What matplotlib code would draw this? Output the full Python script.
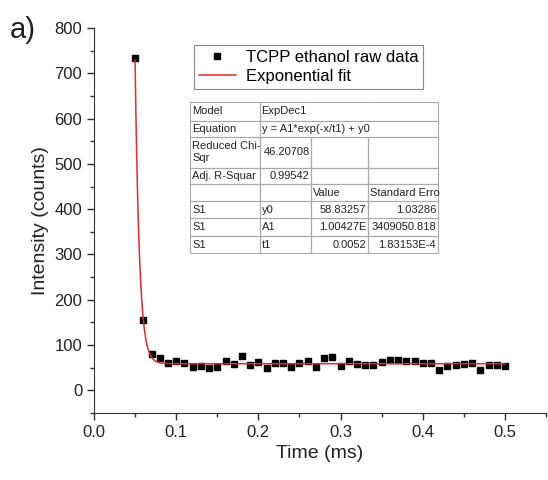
import numpy as np
import matplotlib.pyplot as plt
from matplotlib.table import Table
from matplotlib.ticker import MultipleLocator

plt.rcParams['font.family'] = ['Liberation Sans', 'DejaVu Sans']

# raw decay data
time_ms = [0.05, 0.06, 0.07, 0.08, 0.09, 0.10, 0.11, 0.12, 0.13, 0.14,
           0.15, 0.16, 0.17, 0.18, 0.19, 0.20, 0.21, 0.22, 0.23, 0.24,
           0.25, 0.26, 0.27, 0.28, 0.29, 0.30, 0.31, 0.32, 0.33, 0.34,
           0.35, 0.36, 0.37, 0.38, 0.39, 0.40, 0.41, 0.42, 0.43, 0.44,
           0.45, 0.46, 0.47, 0.48, 0.49, 0.50]
counts = [733, 155, 81, 72, 60, 65, 61, 51, 54, 49,
          51, 64, 59, 75, 56, 62, 49, 61, 60, 51,
          60, 65, 51, 71, 74, 53, 64, 59, 57, 57,
          62, 68, 68, 64, 64, 60, 61, 45, 54, 56,
          59, 61, 44, 56, 56, 54]

# fit parameters from the table
y0 = 58.83257
A1 = 1.00427e7
t1 = 0.0052

table_rows = [
    ["Model", "ExpDec1", "", ""],
    ["Equation", "y = A1*exp(-x/t1) + y0", "", ""],
    ["Reduced Chi-\nSqr", "46.20708", "", ""],
    ["Adj. R-Squar", "0.99542", "", ""],
    ["", "", "Value", "Standard Erro"],
    ["S1", "y0", "58.83257", "1.03286"],
    ["S1", "A1", "1.00427E", "3409050.818"],
    ["S1", "t1", "0.0052", "1.83153E-4"],
]

fig = plt.figure(figsize=(5.48, 4.8), dpi=100)
ax = fig.add_axes([0.1715, 0.1396, 0.825, 0.802])

xf = np.linspace(0.05, 0.5, 500)
ax.plot(time_ms, counts, 's', color='black', markersize=5, label='TCPP ethanol raw data', zorder=3)
ax.plot(xf, A1 * np.exp(-xf / t1) + y0, color='#e8282b', lw=1.1, label='Exponential fit', zorder=4)

ax.set_xlim(0, 0.55)
ax.set_ylim(-50, 800)
ax.set_xticks([0.0, 0.1, 0.2, 0.3, 0.4, 0.5])
ax.set_xticklabels(['0.0', '0.1', '0.2', '0.3', '0.4', '0.5'])
ax.xaxis.set_minor_locator(MultipleLocator(0.05))
ax.set_yticks(range(0, 801, 100))
ax.yaxis.set_minor_locator(MultipleLocator(50))
ax.tick_params(which='both', direction='out', labelsize=12, color='#333333', labelcolor='#222222')
ax.tick_params(which='major', length=5, width=1)
ax.tick_params(which='minor', length=3, width=1)
for s in ['top', 'right']:
    ax.spines[s].set_visible(False)
for s in ['left', 'bottom']:
    ax.spines[s].set_color('#333333')

ax.set_xlabel('Time (ms)', fontsize=14, color='#222222')
ax.set_ylabel('Intensity (counts)', fontsize=14, color='#222222')
fig.text(0.018, 0.937, 'a)', fontsize=21, color='#222222', va='center')

leg = ax.legend(loc='upper left', bbox_to_anchor=(0.221, 0.957), borderaxespad=0,
                fontsize=12, fancybox=False, edgecolor='#888888', framealpha=1,
                handlelength=2.2, handletextpad=0.6, borderpad=0.3, labelspacing=0.25)
leg.get_frame().set_linewidth(0.8)

# fit result table
col_w = [70, 51, 57, 70]
row_h = [19, 16, 31, 17, 17, 17, 18, 17]
right_cells = {(2, 1), (3, 1), (5, 2), (5, 3), (6, 2), (6, 3), (7, 2), (7, 3)}
tbl = Table(ax, bbox=[0.2124, 0.4156, 0.5487, 0.3922])
for r, row in enumerate(table_rows):
    for c, txt in enumerate(row):
        loc = 'right' if (r, c) in right_cells else 'left'
        cell = tbl.add_cell(r, c, width=col_w[c], height=row_h[r], text=txt, loc=loc,
                            edgecolor='#aaaaaa', facecolor='none')
        cell.set_linewidth(0.8)
        cell.PAD = 0.03
        cell.get_text().set_color('#222222')
# model / equation text runs across the empty cells
for r in (0, 1):
    tbl[r, 1].visible_edges = 'TBL'
    tbl[r, 2].visible_edges = 'TB'
    tbl[r, 3].visible_edges = 'TBR'
tbl.auto_set_font_size(False)
tbl.set_fontsize(8)
tbl.set_zorder(5)
ax.add_table(tbl)

plt.savefig('out.png', dpi=100)
